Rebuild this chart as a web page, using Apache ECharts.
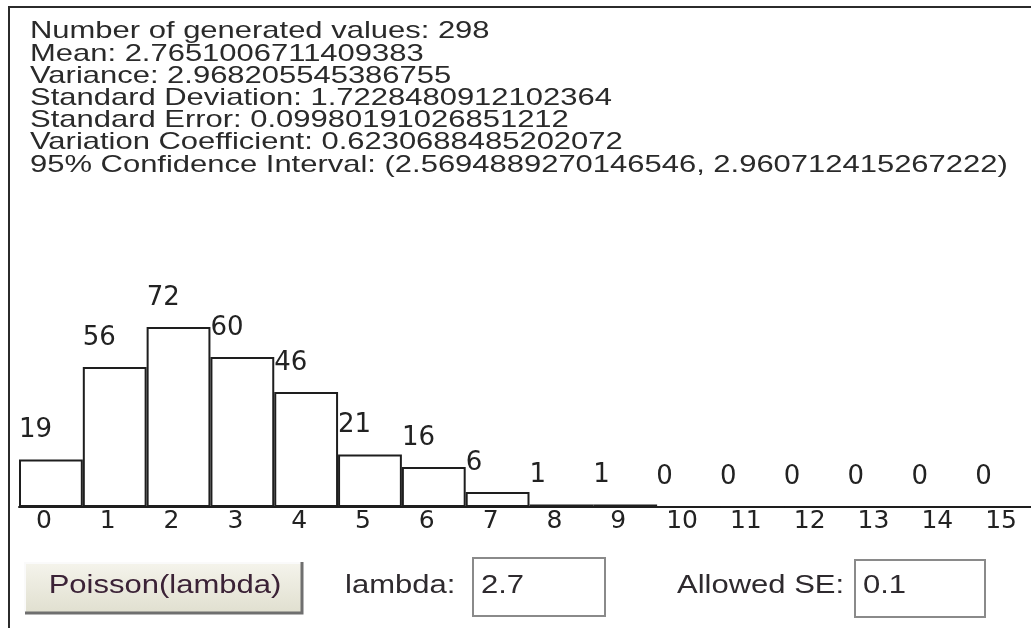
<!DOCTYPE html>
<html>
<head>
<meta charset="utf-8">
<script src="https://cdn.jsdelivr.net/npm/echarts@6.0.0/dist/echarts.min.js"></script>
<style>
  html, body { margin: 0; padding: 0; background: #fff; }
  #main { width: 1031px; height: 628px; }
</style>
</head>
<body>
<div id="main"></div>
<script>
// histogram of the generated Poisson values
const bins = ['0', '1', '2', '3', '4', '5', '6', '7', '8', '9', '10', '11', '12', '13', '14', '15'];
const counts = [19, 56, 72, 60, 46, 21, 16, 6, 1, 1, 0, 0, 0, 0, 0, 0];

// summary text above the histogram
const statLines = [
  'Number of generated values: 298',
  'Mean: 2.7651006711409383',
  'Variance: 2.968205545386755',
  'Standard Deviation: 1.7228480912102364',
  'Standard Error: 0.09980191026851212',
  'Variation Coefficient: 0.6230688485202072',
  '95% Confidence Interval: (2.5694889270146546, 2.960712415267222)'
];

// controls under the chart
const buttonText = 'Poisson(lambda)';
const lambdaLabel = 'lambda:';
const lambdaValue = '2.7';
const seLabel = 'Allowed SE:';
const seValue = '0.1';

const SX = 1.24; // the screenshot is stretched sideways
const uiFont = '"Liberation Sans", Arial, sans-serif';
const numFont = '"DejaVu Sans", sans-serif';

function uiText(x, y, text, opts) {
  return Object.assign({
    type: 'text', x: x, y: y, scaleX: SX, silent: true,
    style: { text: text, fontFamily: uiFont, fontSize: 25, fill: '#2e2a2e', verticalAlign: 'middle' }
  }, opts || {});
}

let myChart = echarts.init(document.getElementById('main'));

myChart.setOption({
  animation: false,
  backgroundColor: '#fff',
  grid: { left: 19, top: 307, width: 1021, height: 200, outerBoundsMode: 'none' },
  xAxis: {
    type: 'category',
    data: bins,
    axisLine: { lineStyle: { color: '#1e1e1e', width: 2 } },
    axisTick: { show: false },
    axisLabel: {
      interval: 0, margin: 2, padding: [0, 14, 0, 0],
      fontFamily: numFont, fontSize: 25, color: '#222'
    },
    splitLine: { show: false }
  },
  yAxis: { type: 'value', min: 0, max: 80, show: false },
  series: [{
    type: 'bar',
    data: counts,
    barCategoryGap: '0%',
    silent: true,
    itemStyle: { color: '#fff', borderColor: '#1e1e1e', borderWidth: 2 },
    label: {
      show: true, position: [0, -29], align: 'left', verticalAlign: 'middle',
      fontFamily: numFont, fontSize: 26, color: '#222'
    }
  }],
  graphic: [
    // outer panel border
    { type: 'rect', silent: true, shape: { x: 9, y: 7, width: 1100, height: 700 },
      style: { fill: 'none', stroke: '#2b2b2b', lineWidth: 2 } },
    // stats block
    { type: 'text', x: 30, y: 20.6, scaleX: 1.29, silent: true,
      style: { text: statLines.join('\n'), fontFamily: uiFont, fontSize: 24, lineHeight: 22.2,
               fill: '#2a2a2a', verticalAlign: 'top' } },
    // button
    { type: 'rect', silent: true, shape: { x: 25, y: 562, width: 278, height: 52 },
      style: { fill: new echarts.graphic.LinearGradient(0, 0, 0, 1, [
        { offset: 0, color: '#f5f4ec' }, { offset: 1, color: '#e0dfcf' }]) } },
    { type: 'polyline', silent: true, shape: { points: [[25, 612], [25, 563], [301, 563]] },
      style: { stroke: '#fafafa', lineWidth: 2, fill: 'none' } },
    { type: 'polyline', silent: true, shape: { points: [[25, 613], [302, 613], [302, 562]] },
      style: { stroke: '#6f6f6f', lineWidth: 3, fill: 'none' } },
    uiText(165, 586, buttonText, { style: { text: buttonText, fontFamily: uiFont, fontSize: 25,
      fill: '#3b2236', verticalAlign: 'middle', align: 'center' } }),
    // lambda field
    uiText(345, 586, lambdaLabel),
    { type: 'rect', silent: true, shape: { x: 473, y: 558, width: 132, height: 58 },
      style: { fill: '#fff', stroke: '#8a8a8a', lineWidth: 2 } },
    uiText(481, 586, lambdaValue),
    // allowed SE field
    uiText(677, 586, seLabel),
    { type: 'rect', silent: true, shape: { x: 855, y: 560, width: 130, height: 57 },
      style: { fill: '#fff', stroke: '#8a8a8a', lineWidth: 2 } },
    uiText(863, 586, seValue)
  ]
});
</script>
</body>
</html>
